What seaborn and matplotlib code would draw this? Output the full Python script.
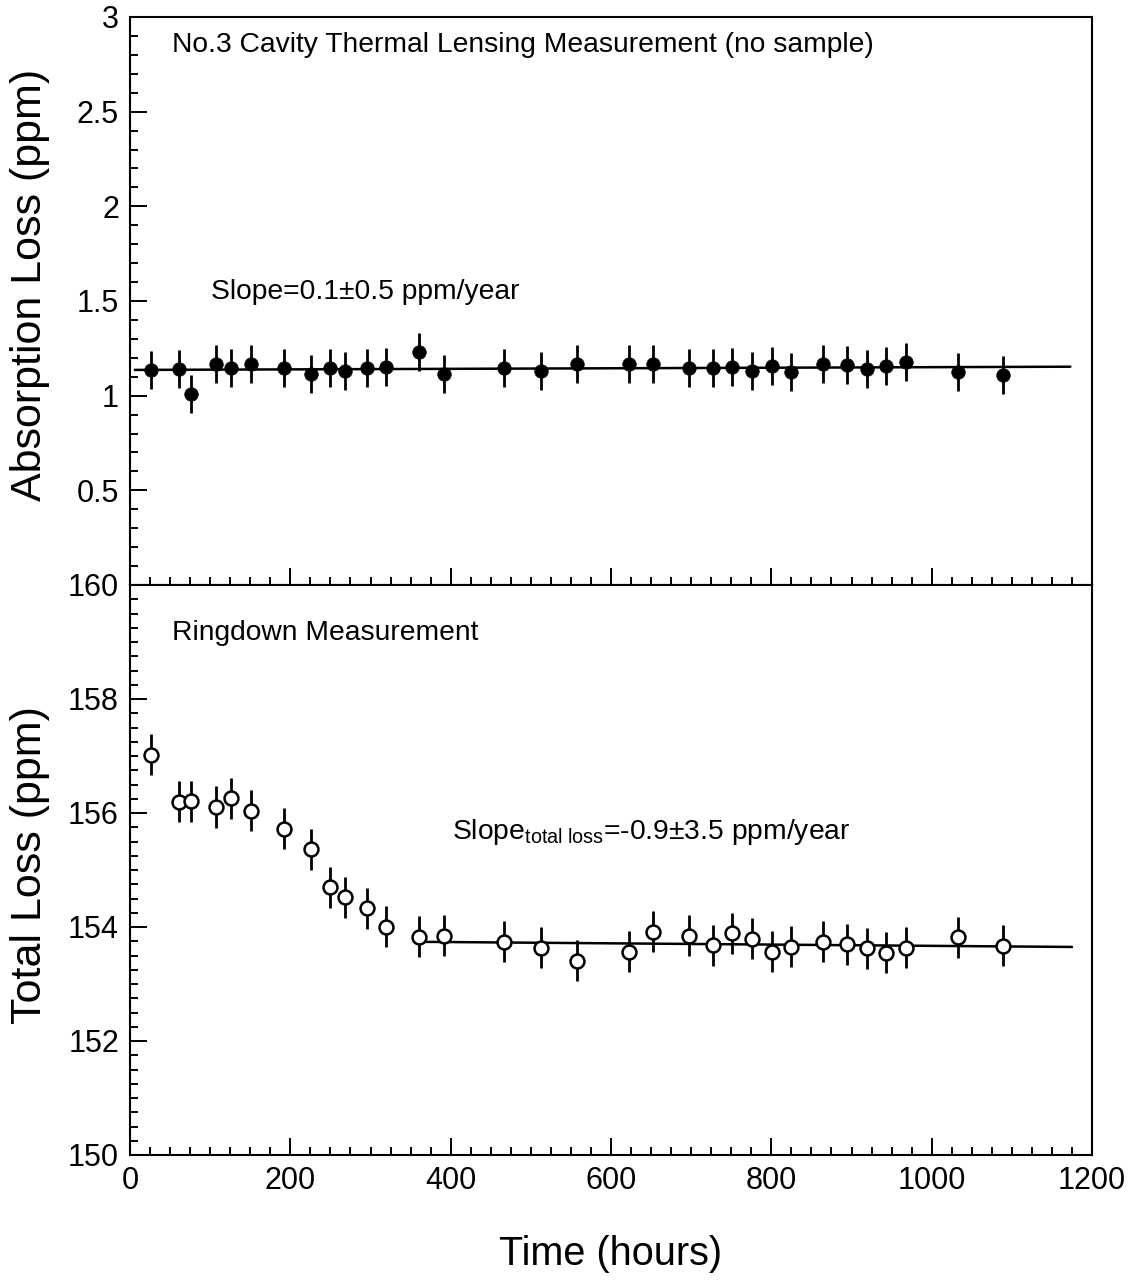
import numpy as np
import pandas as pd
import matplotlib
matplotlib.use("Agg")
import matplotlib.pyplot as plt
from matplotlib.ticker import MultipleLocator, FixedLocator, FixedFormatter
import seaborn as sns

# ---- data ----
hours = [25.6, 60.7, 75.7, 107.3, 126.0, 150.6, 192.5, 225.4, 249.1, 268.6,
         295.6, 319.0, 361.0, 392.0, 467.0, 512.7, 557.0, 623.0, 651.8, 697.0,
         727.0, 751.3, 776.5, 801.2, 824.2, 864.8, 894.0, 919.7, 942.8, 967.5,
         1033.2, 1089.3]
absorption = [1.136, 1.141, 1.009, 1.166, 1.145, 1.166, 1.148, 1.116, 1.145, 1.132,
              1.145, 1.150, 1.231, 1.113, 1.145, 1.129, 1.166, 1.166, 1.166, 1.148,
              1.145, 1.152, 1.132, 1.157, 1.124, 1.166, 1.162, 1.139, 1.157, 1.176,
              1.125, 1.108]
absorption_err = [0.10] * 32
total_loss = [157.02, 156.20, 156.21, 156.105, 156.26, 156.04, 155.72, 155.36, 154.70, 154.52,
              154.33, 154.005, 153.83, 153.85, 153.74, 153.64, 153.41, 153.57, 153.92, 153.85,
              153.68, 153.89, 153.79, 153.57, 153.65, 153.74, 153.70, 153.63, 153.55, 153.64,
              153.82, 153.67]
total_err = [0.36] * 32

fit_abs_x = [6.0, 1173.0]
fit_abs_y = [1.136, 1.153]
fit_tot_x = [361.0, 1175.0]
fit_tot_y = [153.74, 153.65]

top_yticks = [0.5, 1.0, 1.5, 2.0, 2.5, 3.0]
top_yticklabels = ["0.5", "1", "1.5", "2", "2.5", "3"]
bot_yticks = [150, 152, 154, 156, 158, 160]
bot_yticklabels = ["150", "152", "154", "156", "158", "160"]
xticks = [0, 200, 400, 600, 800, 1000, 1200]
xticklabels = ["0", "200", "400", "600", "800", "1000", "1200"]

title_top = "No.3 Cavity Thermal Lensing Measurement (no sample)"
slope_top = "Slope=0.1\u00b10.5 ppm/year"
title_bot = "Ringdown Measurement"
slope_bot = r"Slope$_{\mathrm{total\ loss}}$=-0.9$\pm$3.5 ppm/year"

df_abs = pd.DataFrame({"t": hours, "v": absorption, "e": absorption_err})
df_tot = pd.DataFrame({"t": hours, "v": total_loss, "e": total_err})
df_fa = pd.DataFrame({"t": fit_abs_x, "v": fit_abs_y})
df_ft = pd.DataFrame({"t": fit_tot_x, "v": fit_tot_y})

# ---- style ----
sns.set_theme(style="white")
plt.rcParams["font.family"] = ["Liberation Sans", "DejaVu Sans"]
plt.rcParams["mathtext.fontset"] = "custom"
plt.rcParams["mathtext.rm"] = "Liberation Sans"
plt.rcParams["mathtext.it"] = "Liberation Sans:italic"
plt.rcParams["mathtext.bf"] = "Liberation Sans:bold"
plt.rcParams["text.color"] = "black"
plt.rcParams["axes.labelcolor"] = "black"
plt.rcParams["xtick.color"] = "black"
plt.rcParams["ytick.color"] = "black"

W, H = 1136, 1283
fig = plt.figure(figsize=(W / 100, H / 100), dpi=100)
left, right = 130 / W, 1092 / W
y_top, y_mid, y_bot = 1 - 17 / H, 1 - 585 / H, 1 - 1155 / H
ax1 = fig.add_axes([left, y_mid, right - left, y_top - y_mid])
ax2 = fig.add_axes([left, y_bot, right - left, y_mid - y_bot])

TICK_FS = 22
LABEL_FS = 31
XLABEL_FS = 28.5
TEXT_FS = 20.3

for ax in (ax1, ax2):
    ax.set_facecolor("white")
    for s in ax.spines.values():
        s.set_visible(True)
        s.set_color("black")
        s.set_linewidth(1.5)
    ax.set_xlim(0, 1200)
    ax.xaxis.set_major_locator(FixedLocator(xticks))
    ax.xaxis.set_minor_locator(MultipleLocator(25))
    ax.tick_params(which="both", direction="in", top=False, right=False,
                   bottom=True, left=True, color="black", labelcolor="black",
                   width=1.4, labelsize=TICK_FS, pad=8)
    ax.tick_params(which="major", length=12)
    ax.tick_params(which="minor", length=6)
    ax.grid(False)

# top panel
ax1.errorbar(df_abs["t"], df_abs["v"], yerr=df_abs["e"], fmt="none",
             ecolor="black", elinewidth=2.0, capsize=0, zorder=2)
sns.lineplot(data=df_fa, x="t", y="v", ax=ax1, color="black", linewidth=1.8,
             zorder=3, legend=False)
sns.scatterplot(data=df_abs, x="t", y="v", ax=ax1, color="black", s=95,
                edgecolor="black", linewidth=0.5, zorder=4, legend=False)
ax1.set_ylim(0, 3)
ax1.yaxis.set_major_locator(FixedLocator(top_yticks))
ax1.yaxis.set_major_formatter(FixedFormatter(top_yticklabels))
ax1.yaxis.set_minor_locator(MultipleLocator(0.1))
ax1.tick_params(axis="x", labelbottom=False)
ax1.set_xlabel("")
ax1.set_ylabel("Absorption Loss (ppm)", fontsize=LABEL_FS, color="black")
ax1.yaxis.set_label_coords(-0.083, 0.528)
ax1.text(52, 2.85, title_top, fontsize=TEXT_FS, va="center", ha="left", color="black")
ax1.text(101, 1.548, slope_top, fontsize=TEXT_FS, va="center", ha="left", color="black")

# bottom panel
ax2.errorbar(df_tot["t"], df_tot["v"], yerr=df_tot["e"], fmt="none",
             ecolor="black", elinewidth=2.0, capsize=0, zorder=2)
sns.lineplot(data=df_ft, x="t", y="v", ax=ax2, color="black", linewidth=1.8,
             zorder=3, legend=False)
sns.scatterplot(data=df_tot, x="t", y="v", ax=ax2, color="white", s=100,
                edgecolor="black", linewidth=1.8, zorder=4, legend=False)
ax2.set_ylim(150, 160)
ax2.yaxis.set_major_locator(FixedLocator(bot_yticks))
ax2.yaxis.set_major_formatter(FixedFormatter(bot_yticklabels))
ax2.yaxis.set_minor_locator(MultipleLocator(0.25))
ax2.xaxis.set_major_formatter(FixedFormatter(xticklabels))
ax2.set_xlabel("Time (hours)", fontsize=XLABEL_FS, labelpad=28, color="black")
ax2.set_ylabel("Total Loss (ppm)", fontsize=LABEL_FS, color="black")
ax2.yaxis.set_label_coords(-0.083, 0.509)
ax2.text(52, 159.16, title_bot, fontsize=TEXT_FS, va="center", ha="left", color="black")
ax2.text(402, 155.67, slope_bot, fontsize=TEXT_FS, va="center", ha="left", color="black")

fig.savefig("out.png", dpi=100, facecolor="white")
